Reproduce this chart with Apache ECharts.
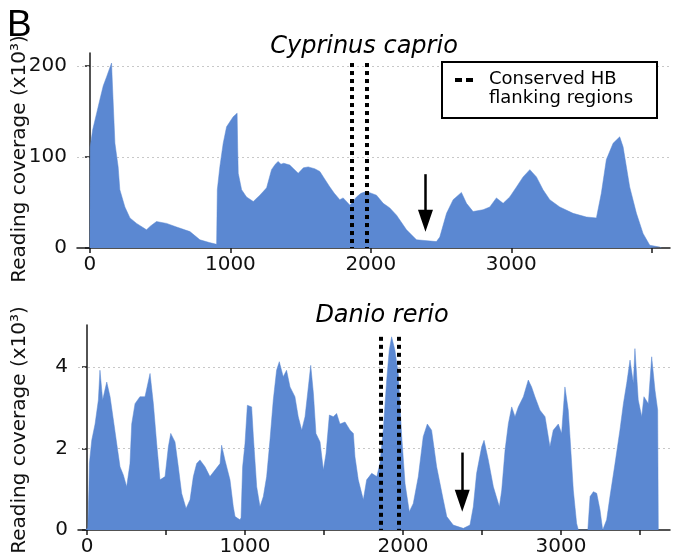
<!DOCTYPE html>
<html>
<head>
<meta charset="utf-8">
<script src="https://cdn.jsdelivr.net/npm/echarts@6/dist/echarts.min.js"></script>
<style>html,body{margin:0;padding:0;background:#fff}#c{width:674px;height:557px}</style>
</head>
<body>
<div id="c"></div>
<script>
// ---- Data ----
const carpTitle = 'Cyprinus caprio';
const danioTitle = 'Danio rerio';
const yAxisName = 'Reading coverage (x10³)';
const legendText = 'Conserved HB\nflanking regions';

const carpXTicks = [0, 1000, 2000, 3000, 4000];
const carpXLabels = [0, 1000, 2000, 3000];
const carpYTicks = [0, 100, 200];
const danioXTicks = [0, 500, 1000, 1500, 2000, 2500, 3000, 3500];
const danioXLabels = [0, 1000, 2000, 3000];
const danioYTicks = [0, 2, 4];

// coverage (x10^3) vs position
const carpCoverage = [[0,0],[2,111],[20,130],[48,148],[71,163],[95,178],[119,188],[140,197],[154,203],[160,180],[178,115],[201,89],[213,64],[249,45],[285,33],[332,27],[403,20],[430,24],[474,29],[546,27],[617,23],[712,18],[783,9],[850,6],[902,4],[906,4],[907,64],[925,89],[949,115],[973,133],[1020,144],[1048,148],[1052,110],[1056,82],[1080,64],[1115,56],[1163,51],[1210,58],[1258,66],[1293,86],[1320,92],[1340,95],[1360,92],[1380,93],[1423,91],[1450,87],[1483,82],[1520,88],[1554,89],[1600,87],[1637,84],[1670,76],[1708,67],[1740,60],[1779,53],[1803,55],[1851,47],[1898,56],[1930,60],[1969,62],[2040,58],[2088,49],[2135,44],[2183,36],[2254,20],[2325,9],[2400,8],[2467,7],[2491,12],[2539,38],[2586,53],[2645,61],[2681,49],[2728,40],[2799,42],[2847,45],[2894,55],[2942,49],[2989,56],[3037,67],[3084,78],[3132,86],[3179,78],[3226,64],[3274,53],[3345,45],[3440,38],[3535,34],[3606,33],[3641,60],[3677,97],[3725,115],[3772,122],[3796,111],[3843,67],[3891,38],[3938,16],[3986,3],[4057,1],[4070,0]];

const danioCoverage = [[-10,0],[5,0.05],[12,1.0],[15,1.63],[30,2.2],[51,2.6],[72,3.19],[82,3.92],[99,3.19],[125,3.63],[146,3.27],[167,2.7],[188,2.12],[209,1.55],[230,1.35],[251,1.06],[272,1.63],[283,2.6],[304,3.1],[335,3.27],[367,3.27],[399,3.84],[420,3.1],[441,2.12],[462,1.23],[494,1.31],[515,2.04],[530,2.37],[557,2.16],[578,1.55],[599,0.9],[627,0.53],[652,0.74],[673,1.31],[694,1.63],[715,1.72],[747,1.55],[778,1.31],[810,1.47],[842,1.63],[852,2.08],[873,1.72],[905,1.23],[926,0.57],[937,0.33],[968,0.25],[975,0.3],[985,1.55],[1000,2.12],[1015,3.06],[1042,3.02],[1053,2.29],[1074,1.06],[1095,0.57],[1116,0.82],[1137,1.31],[1158,2.2],[1179,3.19],[1200,3.92],[1217,4.13],[1242,3.76],[1263,3.92],[1285,3.51],[1316,3.27],[1337,2.78],[1359,2.45],[1380,2.78],[1401,3.51],[1416,4.04],[1433,3.35],[1449,2.37],[1475,2.16],[1496,1.47],[1513,1.88],[1534,2.82],[1559,2.78],[1580,2.86],[1601,2.6],[1633,2.65],[1665,2.45],[1686,2.37],[1696,1.8],[1717,1.23],[1749,0.74],[1770,1.23],[1802,1.39],[1834,1.31],[1854,1.63],[1875,2.45],[1897,3.68],[1913,4.41],[1928,4.74],[1949,4.41],[1970,3.84],[1992,2.29],[2013,1.14],[2040,0.45],[2065,0.65],[2097,1.31],[2128,2.29],[2154,2.6],[2181,2.45],[2213,1.55],[2255,0.74],[2277,0.33],[2318,0.12],[2382,0.04],[2424,0.12],[2445,0.57],[2466,1.39],[2498,2.04],[2513,2.2],[2540,1.72],[2572,1.06],[2610,0.57],[2625,0.98],[2646,1.96],[2667,2.61],[2688,3.02],[2709,2.78],[2730,3.02],[2762,3.27],[2793,3.68],[2814,3.51],[2835,3.27],[2867,2.94],[2899,2.78],[2930,2.04],[2951,2.45],[2983,2.6],[3004,2.37],[3025,3.51],[3046,2.94],[3057,2.29],[3078,0.98],[3099,0.16],[3110,0],[3170,0],[3184,0.82],[3205,0.94],[3226,0.9],[3247,0.49],[3264,0],[3289,0.25],[3310,0.82],[3342,1.63],[3373,2.45],[3395,3.1],[3416,3.6],[3437,4.17],[3458,3.6],[3468,4.45],[3489,3.19],[3511,2.78],[3525,3.27],[3553,3.1],[3574,4.25],[3595,3.43],[3612,2.94],[3616,0]];

// conserved HB flanking region boundaries (position, top of dashed line)
const carpFlanks = [1862, 1973];
const carpFlankTop = 203;
const danioFlanks = [1859, 1975];
const danioFlankTop = 4.74;
// arrows: [position, start value, tip value]
const carpArrow = [2389, 81, 30];
const danioArrow = [2375, 1.9, 0.72];

// ---- Chart ----
const FONT = '"DejaVu Sans", sans-serif';
const AREA = '#5b88d2';
const AX = '#1a1a1a';

function xAxisCfg(gi, min, max, ticks, labels) {
  return {
    type: 'value', gridIndex: gi, min: min, max: max,
    axisLine: { show: true, onZero: false, lineStyle: { color: AX, width: 1.5 } },
    axisTick: { show: true, length: 5, customValues: ticks, lineStyle: { color: AX, width: 1.5 } },
    axisLabel: { customValues: labels, formatter: v => String(v), color: '#111', fontSize: 20, fontFamily: FONT, margin: 7 },
    splitLine: { show: false }
  };
}
function yAxisCfg(gi, max, ticks) {
  return {
    type: 'value', gridIndex: gi, min: 0, max: max,
    axisLine: { show: true, lineStyle: { color: AX, width: 1.5 } },
    axisTick: { show: true, length: 5, customValues: ticks, lineStyle: { color: AX, width: 1.5 } },
    axisLabel: { customValues: ticks, formatter: v => String(v), color: '#111', fontSize: 20, fontFamily: FONT, margin: 10 },
    splitLine: { show: false }
  };
}
const gridMark = { color: '#c8c8c8', type: [2, 3], width: 1 };
const flankStyle = { color: '#000', type: [4, 4], width: 4 };

function areaSeries(xi, data, gridVals, flanks, flankTop, arrow) {
  return [{
    type: 'line', xAxisIndex: xi, yAxisIndex: xi, data: data,
    showSymbol: false, symbol: 'none', sampling: null, z: 2,
    lineStyle: { width: 0.5, color: AREA }, areaStyle: { color: AREA, opacity: 1 },
    markLine: {
      silent: true, symbol: 'none', animation: false, z: 1,
      label: { show: false },
      lineStyle: gridMark,
      data: gridVals.filter(v => v > 0).map(v => ({ yAxis: v }))
    }
  }, {
    type: 'line', xAxisIndex: xi, yAxisIndex: xi, data: [], z: 5,
    markLine: {
      silent: true, animation: false, symbol: 'none', label: { show: false },
      lineStyle: flankStyle,
      data: flanks.map(f => [{ coord: [f, flankTop] }, { coord: [f, 0] }])
    }
  }, {
    type: 'line', xAxisIndex: xi, yAxisIndex: xi, data: [], z: 6,
    markLine: {
      silent: true, animation: false, symbol: ['none', 'triangle'], symbolSize: [15, 22],
      label: { show: false },
      lineStyle: { color: '#000', type: 'solid', width: 2.5 },
      data: [[{ coord: [arrow[0], arrow[1]] }, { coord: [arrow[0], arrow[2]] }]]
    }
  }];
}

const nameStyle = { text: yAxisName, fontSize: 20, fontFamily: FONT, fill: '#111', align: 'center', verticalAlign: 'middle' };

const chart = echarts.init(document.getElementById('c'), null, { renderer: 'canvas' });
chart.setOption({
  animation: false,
  backgroundColor: '#fff',
  grid: [
    { left: 77, right: 4, top: 53, height: 195, containLabel: false, outerBoundsMode: 'none' },
    { left: 78, right: 4, top: 325, height: 205, containLabel: false, outerBoundsMode: 'none' }
  ],
  xAxis: [
    xAxisCfg(0, -92, 4130, carpXTicks, carpXLabels),
    xAxisCfg(1, -57, 3690, danioXTicks, danioXLabels)
  ],
  yAxis: [
    yAxisCfg(0, 214, carpYTicks),
    yAxisCfg(1, 5.03, danioYTicks)
  ],
  series: [
    ...areaSeries(0, carpCoverage, carpYTicks, carpFlanks, carpFlankTop, carpArrow),
    ...areaSeries(1, danioCoverage, danioYTicks, danioFlanks, danioFlankTop, danioArrow)
  ],
  graphic: [
    { type: 'text', left: 7, top: 7, style: { text: 'B', fontSize: 37, fontFamily: '"Liberation Sans", Arial, sans-serif', fill: '#000' } },
    { type: 'text', x: 20, y: 159, rotation: Math.PI / 2, style: nameStyle },
    { type: 'text', x: 20, y: 430, rotation: Math.PI / 2, style: nameStyle },
    { type: 'text', x: 364, y: 47, style: { text: carpTitle, fontSize: 24, fontStyle: 'italic', fontFamily: FONT, fill: '#000', align: 'center', verticalAlign: 'middle' } },
    { type: 'text', x: 382, y: 316, style: { text: danioTitle, fontSize: 24, fontStyle: 'italic', fontFamily: FONT, fill: '#000', align: 'center', verticalAlign: 'middle' } },
    { type: 'rect', z: 10, shape: { x: 442, y: 62, width: 215, height: 56 }, style: { fill: '#fff', stroke: '#000', lineWidth: 2 } },
    { type: 'line', z: 11, shape: { x1: 455, y1: 80, x2: 474, y2: 80 }, style: { stroke: '#000', lineWidth: 4, lineDash: [7, 4] } },
    { type: 'text', z: 11, x: 489, y: 70, style: { text: legendText, fontSize: 18, lineHeight: 19, fontFamily: FONT, fill: '#000', verticalAlign: 'top' } }
  ]
});
</script>
</body>
</html>
